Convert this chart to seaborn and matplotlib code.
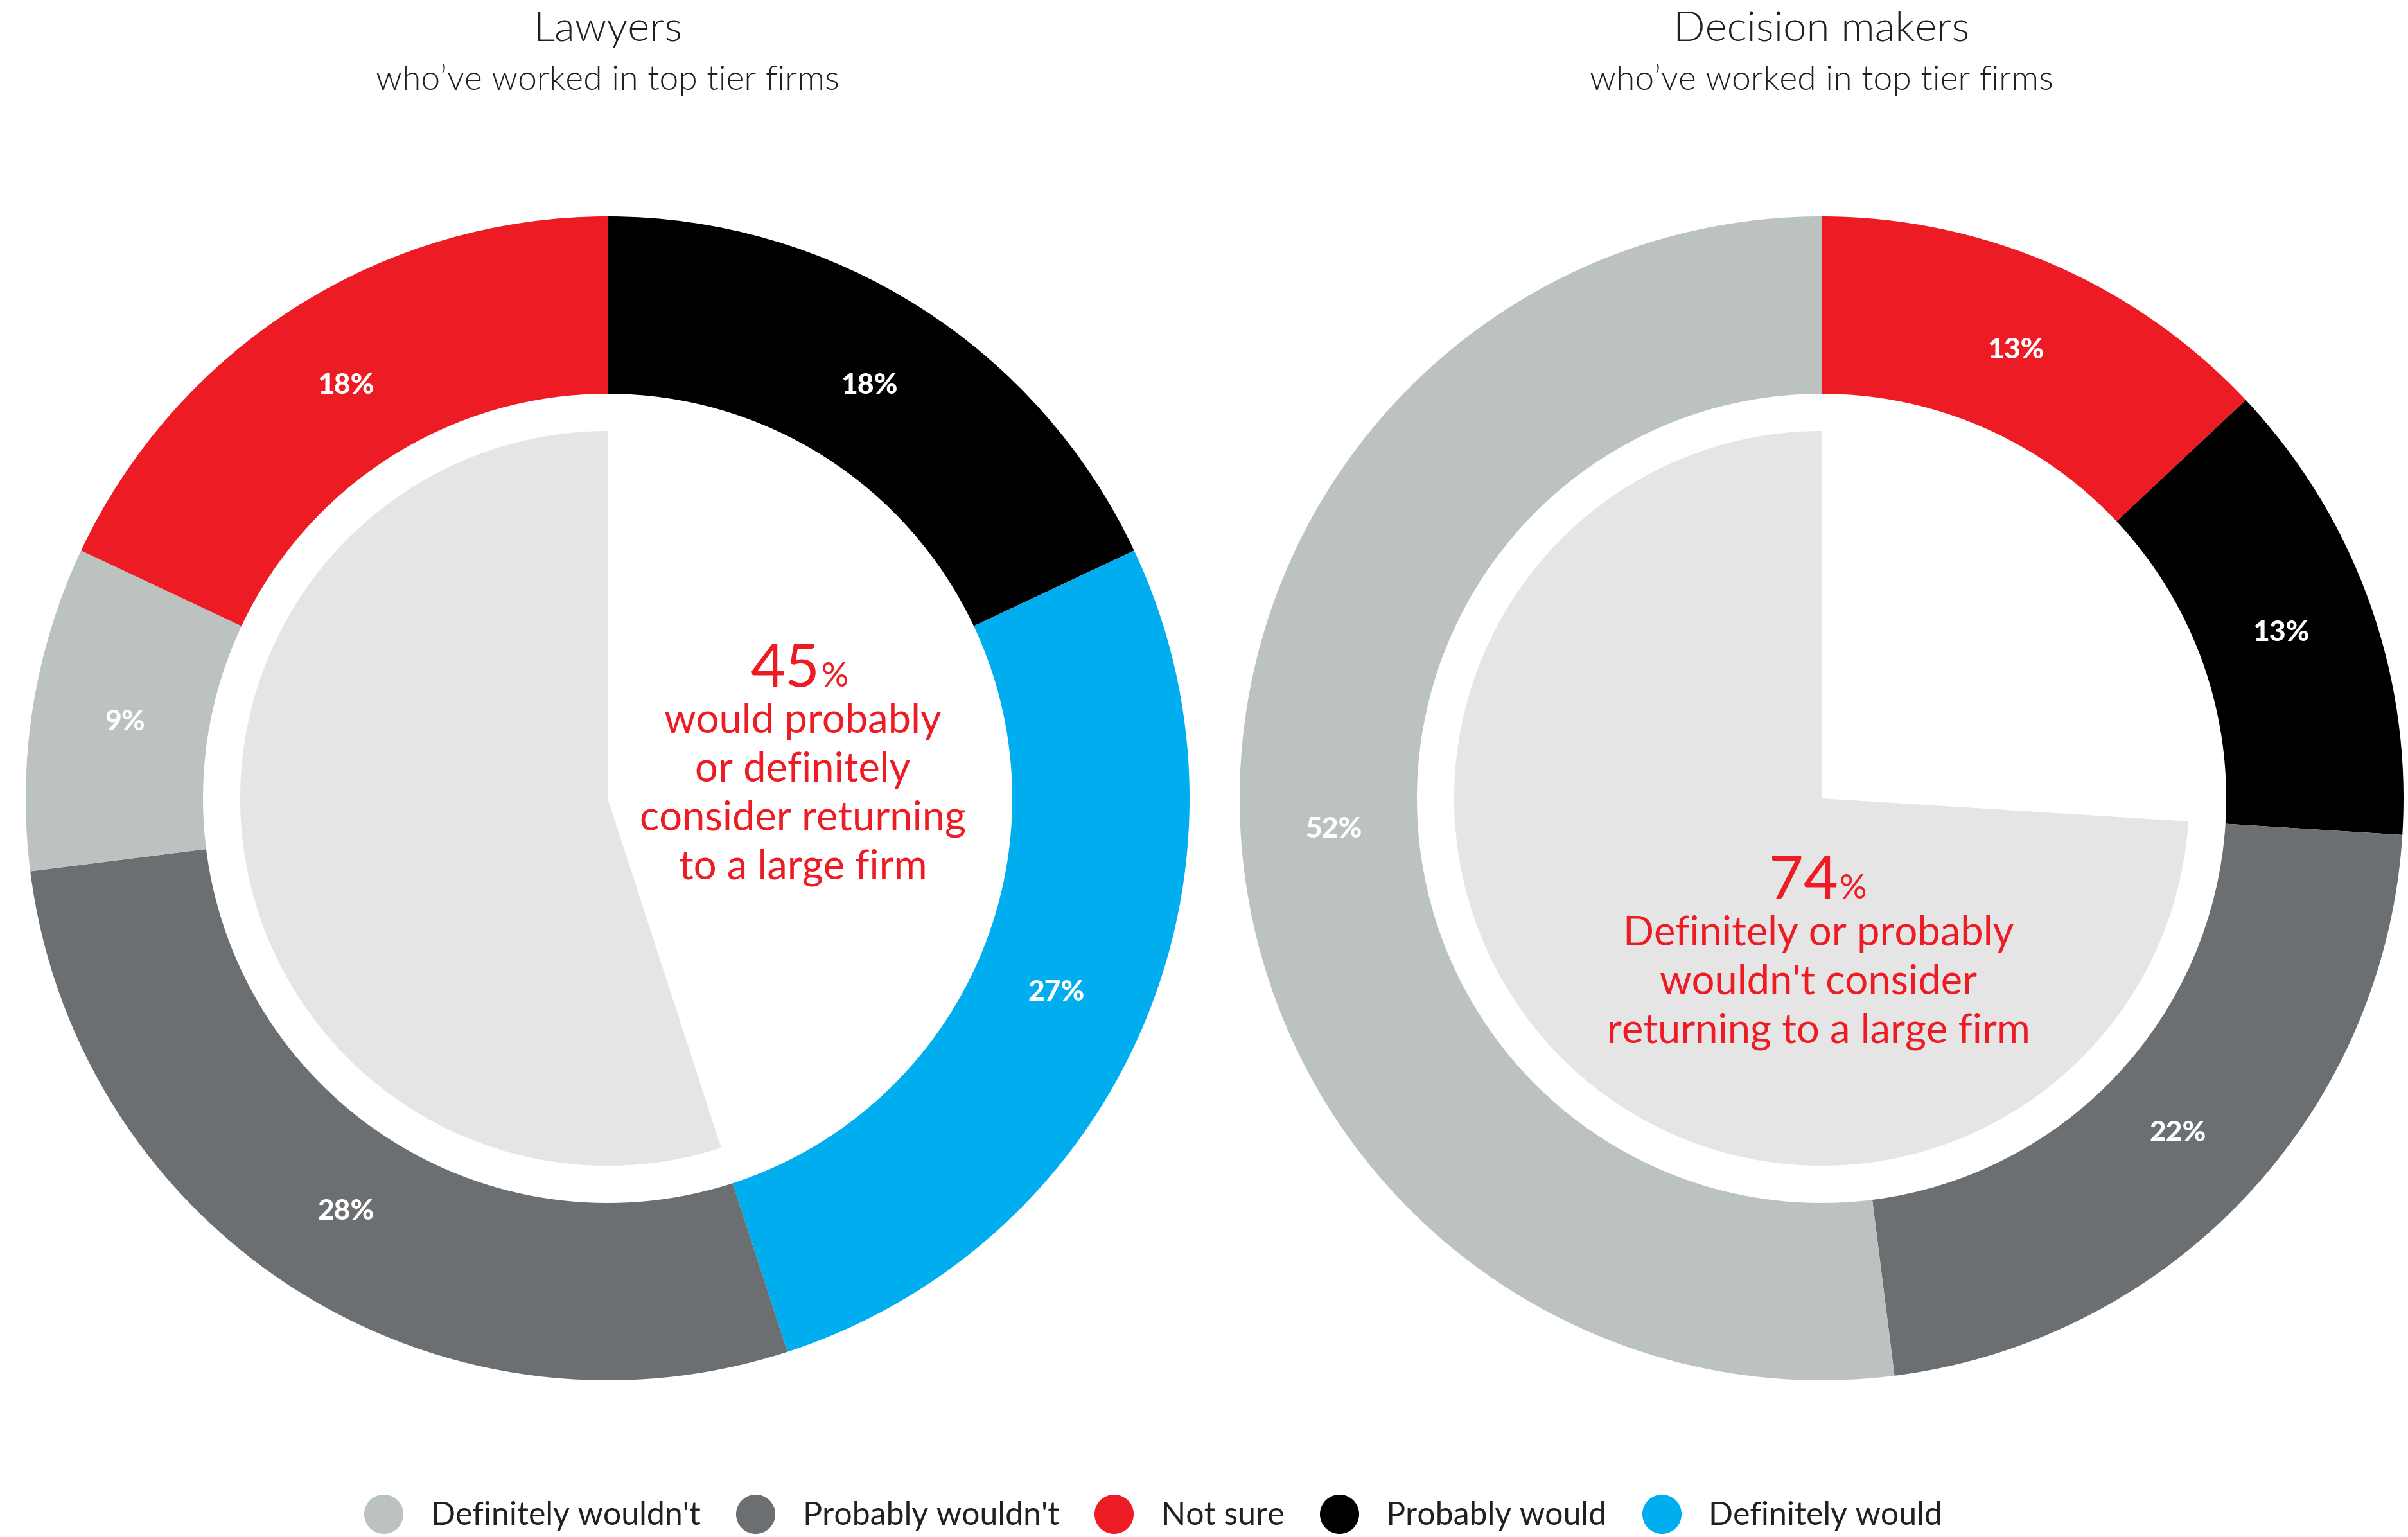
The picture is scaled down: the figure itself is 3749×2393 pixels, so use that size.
import matplotlib
matplotlib.use("Agg")
import matplotlib.pyplot as plt
from matplotlib.lines import Line2D
import seaborn as sns

# Response categories and colours
categories = ["Definitely wouldn't", "Probably wouldn't", "Not sure",
              "Probably would", "Definitely would"]
palette = {
    "Definitely wouldn't": "#BCC2C0",
    "Probably wouldn't": "#6B6F71",
    "Not sure": "#ED1C24",
    "Probably would": "#000000",
    "Definitely would": "#00AEEF",
}

# Lawyers: segments clockwise from 12 o'clock
lawyer_order = ["Probably would", "Definitely would", "Probably wouldn't",
                "Definitely wouldn't", "Not sure"]
lawyer_values = [18, 27, 28, 9, 18]
lawyer_highlight = 45          # would probably / definitely consider
# Decision makers: segments clockwise from 12 o'clock
dm_order = ["Not sure", "Probably would", "Probably wouldn't", "Definitely wouldn't"]
dm_values = [13, 13, 22, 52]
dm_highlight = 74              # definitely / probably wouldn't consider

titles = ["Lawyers", "Decision makers"]
subtitle = "who\u2019ve worked in top tier firms"
lawyer_note = "would probably\nor definitely\nconsider returning\nto a large firm"
dm_note = "Definitely or probably\nwouldn't consider\nreturning to a large firm"

sns.set_theme(style="white")
plt.rcParams["font.family"] = ["Lato", "DejaVu Sans"]

W, H = 3749, 2393
fig = plt.figure(figsize=(W / 100, H / 100), dpi=100)
ax = fig.add_axes([0, 0, 1, 1])

R_OUT, R_IN, R_PIE = 906, 630, 572
RED = "#ED1C24"
INK = "#231F20"
INNER_GREY = "#E5E5E5"


def donut(cx, cy, order, values, white_share):
    ax.pie(values, colors=[palette[c] for c in order], startangle=90,
           counterclock=False, center=(cx, cy), radius=R_OUT,
           wedgeprops=dict(width=R_OUT - R_IN, linewidth=0),
           autopct=lambda p: f"{p:.0f}%", pctdistance=0.84,
           textprops=dict(color="white", fontsize=32, fontweight=900))
    # inner pie: white share first (clockwise from top), grey remainder
    ax.pie([white_share, 100 - white_share], colors=["white", INNER_GREY],
           startangle=90, counterclock=False, center=(cx, cy), radius=R_PIE,
           wedgeprops=dict(linewidth=0))


LX, RX, CY = 946, 2836, H - 1243
donut(LX, CY, lawyer_order, lawyer_values, lawyer_highlight)
donut(RX, CY, dm_order, dm_values, 100 - dm_highlight)

# Titles
for x, t in zip([LX, RX], titles):
    ax.text(x, H - 46, t, ha="center", va="center", fontsize=47,
            fontweight=300, color=INK)
    ax.text(x, H - 124, subtitle, ha="center", va="center", fontsize=38.5,
            fontweight=300, color=INK)

# Centre call-outs
ax.text(1277, H - 1069, f"{lawyer_highlight}", ha="right", va="baseline",
        fontsize=67, fontweight=400, color=RED)
ax.text(1279, H - 1069, "%", ha="left", va="baseline", fontsize=38,
        fontweight=400, color=RED)
ax.text(1250, H - 1237, lawyer_note, ha="center", va="center", fontsize=45.5,
        fontweight=400, color=RED, linespacing=1.37)

ax.text(2862, H - 1399, f"{dm_highlight}", ha="right", va="baseline",
        fontsize=67, fontweight=400, color=RED)
ax.text(2864, H - 1399, "%", ha="left", va="baseline", fontsize=38,
        fontweight=400, color=RED)
ax.text(2831, H - 1530, dm_note, ha="center", va="center", fontsize=45.5,
        fontweight=400, color=RED, linespacing=1.37)

ax.set_xlim(0, W)
ax.set_ylim(0, H)
ax.set_aspect("equal")
ax.axis("off")

handles = [Line2D([], [], marker="o", linestyle="", markersize=44,
                  markerfacecolor=palette[c], markeredgewidth=0) for c in categories]
leg = fig.legend(handles, categories, loc="center",
                 bbox_to_anchor=(1795 / W, 1 - 2360 / H),
                 ncol=5, frameon=False, handlelength=1.25,
                 handletextpad=0.85, columnspacing=1.08, borderpad=0,
                 prop=dict(family=["Lato", "DejaVu Sans"], size=36, weight=400))
for txt in leg.get_texts():
    txt.set_color(INK)

fig.savefig("out.png", dpi=100, facecolor="white")
